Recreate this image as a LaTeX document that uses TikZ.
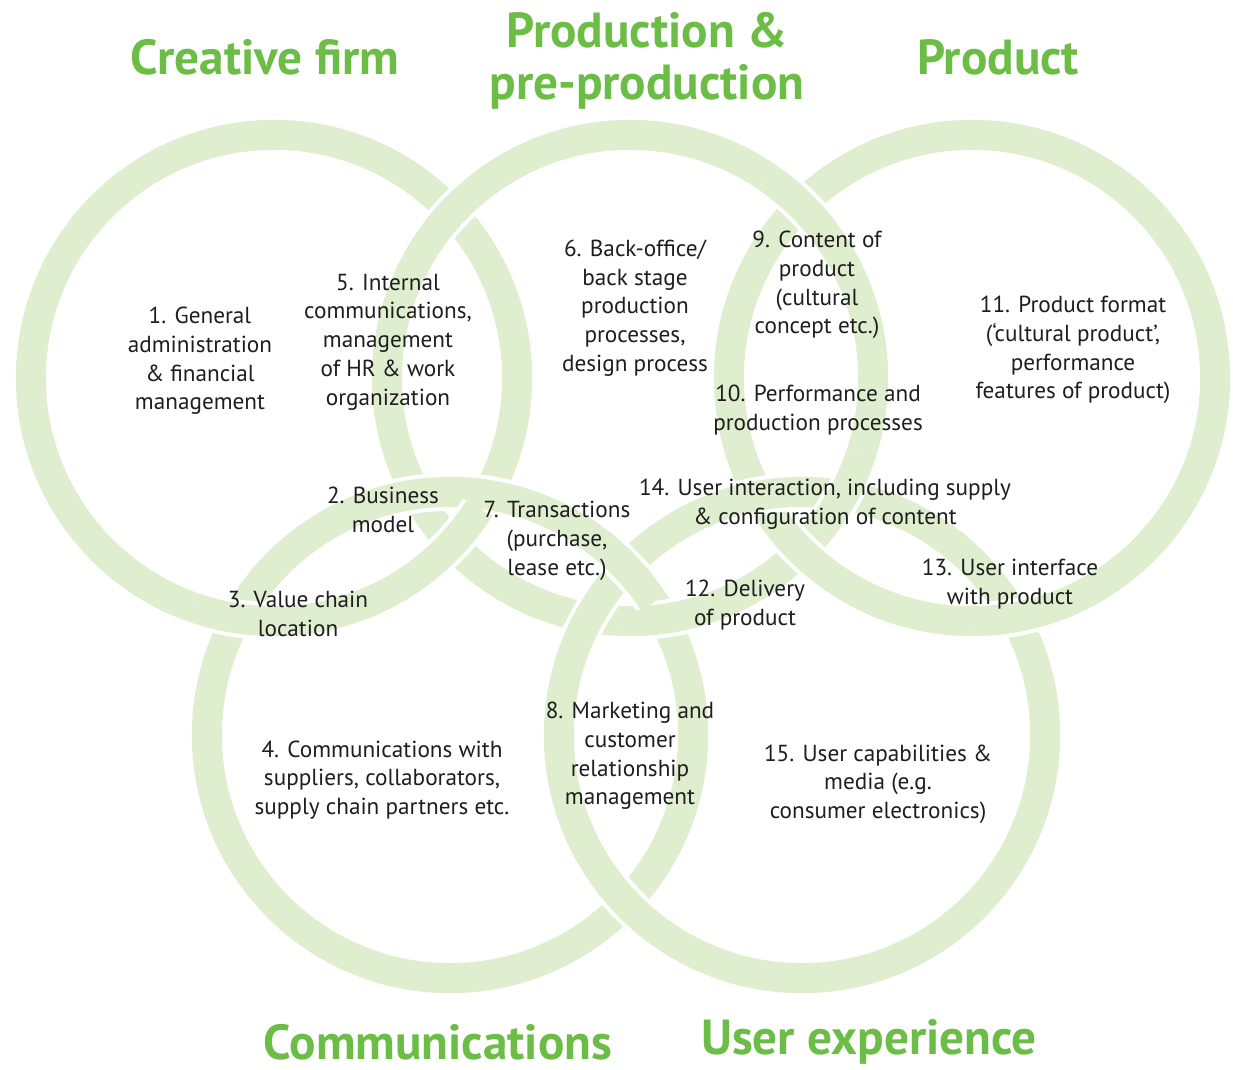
\documentclass[tikz,border=0pt]{standalone}
\usepackage{fontspec}
\setmainfont{PT Sans}
\definecolor{ringcol}{RGB}{222,238,207}
\definecolor{ttlcol}{RGB}{108,189,69}
\definecolor{txtcol}{RGB}{30,30,30}
\newcommand\ringat[1]{%
  \draw[ringhalo] #1 circle[radius=2.43cm];
  \draw[ringband] #1 circle[radius=2.43cm];}
\newcommand\overat[2]{%
  \begin{scope}
    \clip #2 circle[radius=0.45cm];
    \draw[ringhalo] #1 circle[radius=2.43cm];
    \draw[ringband] #1 circle[radius=2.43cm];
  \end{scope}}
\begin{document}
\begin{tikzpicture}[x=0.01cm,y=-0.01cm,
  ringhalo/.style={draw=white,line width=0.38cm},
  ringband/.style={draw=ringcol,line width=0.30cm},
  lbl/.style={align=center,inner sep=0pt,text=txtcol,font=\fontsize{6.6}{8.16}\selectfont},
  ttl/.style={align=center,inner sep=0pt,text=ttlcol,font=\bfseries\fontsize{14}{14.8}\selectfont}]
\useasboundingbox (0,0) rectangle (1233,1070);
\fill[white] (0,0) rectangle (1233,1070);
% ring centres
\coordinate (c1) at (274,378);
\coordinate (c2) at (630,378);
\coordinate (c3) at (972,378);
\coordinate (c4) at (450,735);
\coordinate (c5) at (802,735);
\ringat{(c1)}
\ringat{(c2)}
\ringat{(c3)}
\ringat{(c4)}
\ringat{(c5)}
% interlacing
\overat{(c1)}{(452,543)}
\overat{(c2)}{(801,205)}
\overat{(c1)}{(237,618)}
\overat{(c2)}{(663,619)}
\overat{(c2)}{(843,495)}
\overat{(c3)}{(1015,617)}
\overat{(c4)}{(626,567)}
% titles
\node[ttl] (tcreative) at (265,57) {Creative firm};
\node[ttl] (tprod) at (647,61) {Production \&\\pre-production};
\node[ttl] (tproduct) at (998,57) {Product};
\node[ttl] (tcomm) at (438,1042) {Communications};
\node[ttl] (tux) at (869,1042) {User experience};
% labels
\node[lbl] (t1) at (200,361) {1. General\\administration\\\& financial\\management};
\node[lbl] (t5) at (388,342) {5. Internal\\communications,\\management\\of HR \& work\\organization};
\node[lbl] (t6) at (635,308) {6. Back-office/\\back stage\\production\\processes,\\design process};
\node[lbl] (t9) at (817,285) {9. Content of\\product\\(cultural\\concept etc.)};
\node[lbl] (t10) at (818,410) {10. Performance and\\production processes};
\node[lbl] (t11) at (1073,350) {11. Product format\\(‘cultural product’,\\performance\\features of product)};
\node[lbl] (t2) at (383,510) {2. Business\\model};
\node[lbl] (t7) at (557,541) {7. Transactions\\(purchase,\\lease etc.)};
\node[lbl] (t14) at (825,504) {14. User interaction, including supply\\\& configuration of content};
\node[lbl] (t3) at (298,614) {3. Value chain\\location};
\node[lbl] (t12) at (745,605) {12. Delivery\\of product};
\node[lbl] (t13) at (1010,584) {13. User interface\\with product};
\node[lbl] (t4) at (382,780) {4. Communications with\\suppliers, collaborators,\\supply chain partners etc.};
\node[lbl] (t8) at (630,756) {8. Marketing and\\customer\\relationship\\management};
\node[lbl] (t15) at (878,784) {15. User capabilities \&\\media (e.g.\\consumer electronics)};
\end{tikzpicture}
\end{document}
